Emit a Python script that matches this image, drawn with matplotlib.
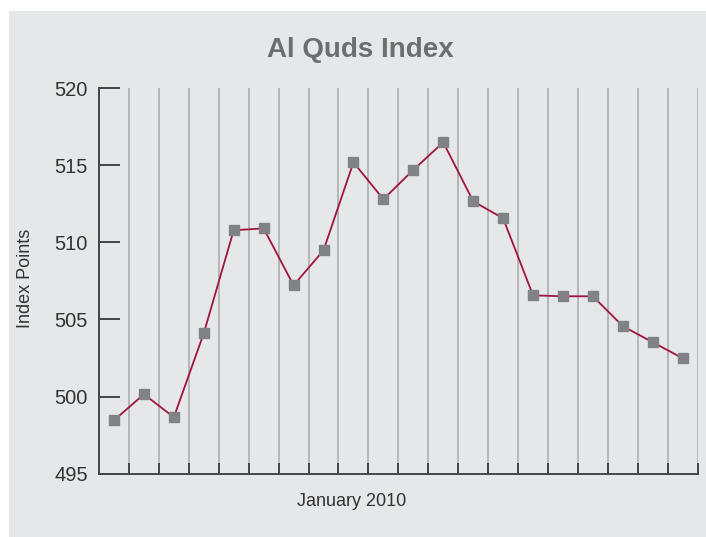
import numpy as np
import matplotlib.pyplot as plt
from matplotlib import font_manager
from matplotlib.patches import Rectangle

# data: 20 trading days in January 2010
index_points = [498.46, 500.15, 498.66, 504.1, 510.78, 510.9, 507.21, 509.48,
                515.18, 512.79, 514.69, 516.48, 512.66, 511.55, 506.56, 506.5,
                506.5, 504.56, 503.52, 502.48]
y_ticks = [495, 500, 505, 510, 515, 520]
title = "Al Quds Index"
x_label = "January 2010"
y_label = "Index Points"

names = {f.name for f in font_manager.fontManager.ttflist}
narrow = "Liberation Sans Narrow" if "Liberation Sans Narrow" in names else "Liberation Sans"
plt.rcParams['font.family'] = [narrow, 'DejaVu Sans']

bg = "#e6e7e8"
fig = plt.figure(figsize=(7.06, 5.37), dpi=100)
fig.patch.set_facecolor("white")
fig.patches.append(Rectangle((9 / 706, 0), 1, 1 - 11 / 537, transform=fig.transFigure,
                             facecolor=bg, edgecolor="none", zorder=-5))

ax = fig.add_axes([99 / 706, 1 - 473.7 / 537, 598.7 / 706, 385.7 / 537])
ax.set_zorder(2)
ax.set_facecolor(bg)

n = len(index_points)
x = np.arange(n) + 0.5
ax.plot(x, index_points, color="#a0153e", lw=1.3, zorder=3)
ax.plot(x, index_points, ls="none", marker="s", ms=6.5, color="#808285", zorder=4)

ax.set_xlim(0, n)
ax.set_ylim(495, 520)
ax.set_yticks(y_ticks)
ax.set_xticks(np.arange(1, n + 1))
ax.set_xticklabels([])
for xv in range(1, n + 1):
    ax.axvline(xv, color="#a7a9ac", lw=1.1, zorder=1)

for s in ["top", "right"]:
    ax.spines[s].set_visible(False)
for s in ["left", "bottom"]:
    ax.spines[s].set_color("#444444")
    ax.spines[s].set_linewidth(1.4)

ax.tick_params(axis="y", direction="in", length=15, width=1.4, color="#444444",
               labelsize=14.5, labelcolor="#333333", pad=8)
ax.tick_params(axis="x", direction="in", length=8, width=1.4, color="#444444")

fig.text(360 / 706, 1 - 50 / 537, title, ha="center", va="center",
         fontsize=20, fontweight="bold", color="#6d6e71")
fig.text(352 / 706, 1 - 502 / 537, x_label, ha="center", va="center",
         fontsize=13, color="#333333")
fig.text(26 / 706, 1 - 278 / 537, y_label, ha="center", va="center",
         rotation=90, fontsize=13, color="#333333")

fig.savefig("out.png", dpi=100, facecolor=fig.get_facecolor())
